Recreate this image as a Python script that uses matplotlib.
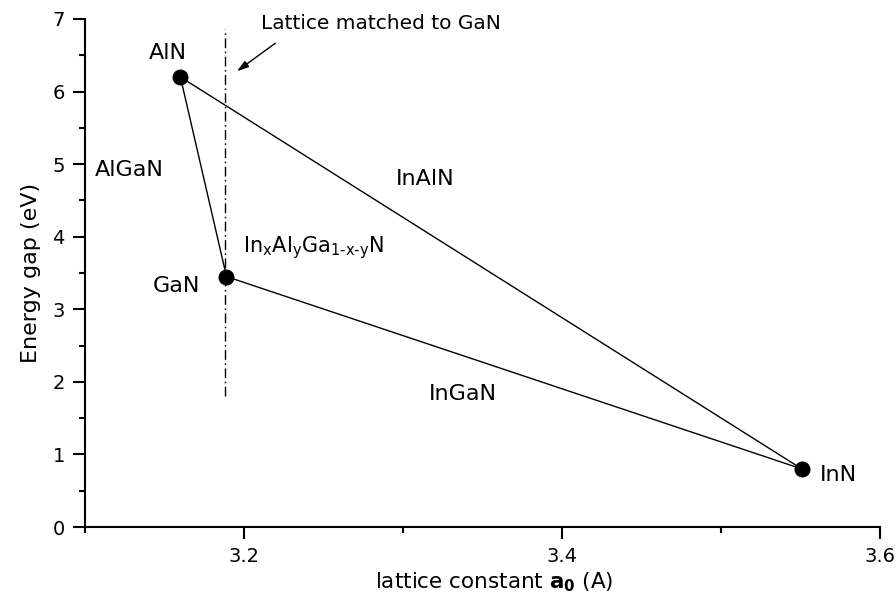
import matplotlib
matplotlib.use("Agg")
import matplotlib.pyplot as plt
from matplotlib.ticker import MultipleLocator

plt.rcParams['font.family'] = ['DejaVu Sans']
plt.rcParams['mathtext.fontset'] = 'dejavusans'
plt.rcParams['mathtext.default'] = 'regular'

# Binary nitrides: lattice constant (A) and band gap (eV)
compounds = ["AlN", "GaN", "InN"]
lattice_a0 = [3.160, 3.189, 3.551]
energy_gap = [6.20, 3.45, 0.80]

# Lattice-matched-to-GaN guide line
lm_x = 3.188
lm_y = [1.80, 6.86]

fig = plt.figure(figsize=(8.96, 6.10), dpi=100)
ax = fig.add_axes([0.0949, 0.136, 0.887, 0.833])

# Triangle edges (ternary alloys) and vertices
tri_x = lattice_a0 + [lattice_a0[0]]
tri_y = energy_gap + [energy_gap[0]]
ax.plot(tri_x, tri_y, color='black', lw=1.0, zorder=2)
ax.plot(lattice_a0, energy_gap, 'o', color='black', ms=10.5, zorder=3)

ax.plot([lm_x, lm_x], lm_y, color='black', lw=1.0,
        linestyle=(0, (7, 2.5, 1.2, 2.5)), zorder=1)

ax.text(3.2107, 6.94, "Lattice matched to GaN", fontsize=14.5,
        ha='left', va='center')
ax.annotate("", xy=(3.1956, 6.28), xytext=(3.2197, 6.665),
            arrowprops=dict(arrowstyle='-|>,head_length=0.7,head_width=0.22',
                            color='black', lw=1.0, shrinkA=0, shrinkB=0))

lab_fs = 16
ax.text(3.1523, 6.53, "AlN", fontsize=lab_fs, ha='center', va='center')
ax.text(3.1724, 3.32, "GaN", fontsize=lab_fs, ha='right', va='center')
ax.text(3.562, 0.72, "InN", fontsize=lab_fs, ha='left', va='center')
ax.text(3.128, 4.92, "AlGaN", fontsize=lab_fs, ha='center', va='center')
ax.text(3.314, 4.80, "InAlN", fontsize=lab_fs, ha='center', va='center')
ax.text(3.3375, 1.83, "InGaN", fontsize=lab_fs, ha='center', va='center')
ax.text(3.1995, 3.79, r"In$_x$Al$_y$Ga$_{\text{1-x-y}}$N",
        fontsize=15, ha='left', va='baseline')

ax.set_xlim(3.1, 3.6)
ax.set_ylim(0, 7)
ax.xaxis.set_minor_locator(MultipleLocator(0.1))
ax.yaxis.set_major_locator(MultipleLocator(1))
ax.yaxis.set_minor_locator(MultipleLocator(0.5))
ax.set_xticks([3.2, 3.4, 3.6])
ax.set_xticklabels(["3.2", "3.4", "3.6"])

for side in ('top', 'right'):
    ax.spines[side].set_visible(False)
for side in ('left', 'bottom'):
    ax.spines[side].set_linewidth(1.5)

ax.tick_params(which='major', direction='out', length=8.5, width=1.5,
               labelsize=14, pad=6)
ax.tick_params(which='minor', direction='out', length=4.5, width=1.5)

ax.set_xlabel(r"lattice constant $\mathbf{a}_{\mathbf{0}}$ (A)", fontsize=15.5)
ax.xaxis.set_label_coords(0.515, -0.085)
ax.set_ylabel("Energy gap (eV)", fontsize=16, labelpad=8)

fig.savefig("out.png", dpi=100)
